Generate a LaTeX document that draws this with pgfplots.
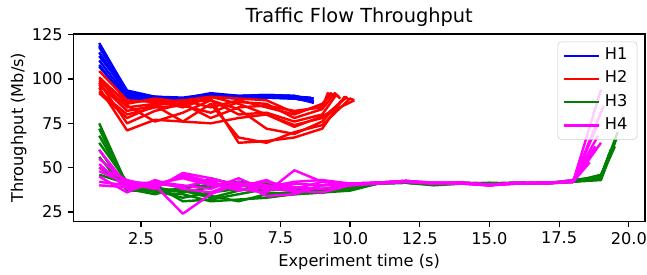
\documentclass[border=0pt]{standalone}
\usepackage{fontspec}
\setmainfont{DejaVu Sans}
\usepackage{pgfplots}
\pgfplotsset{compat=1.18}
\definecolor{cB}{RGB}{0,0,255}
\definecolor{cR}{RGB}{255,0,0}
\definecolor{cG}{RGB}{0,128,0}
\definecolor{cM}{RGB}{255,0,255}
\begin{document}
\begin{tikzpicture}
\begin{axis}[
  name=ax,
  scale only axis,
  width=5.717in, height=1.875in,
  xmin=0.07, xmax=20.58, ymin=19.6, ymax=125.4,
  axis line style={line width=0.94pt},
  tick align=outside,
  xtick pos=left, ytick pos=left,
  major tick length=4.1pt,
  every tick/.style={black, line width=0.94pt},
  xtick={2.5,5,7.5,10,12.5,15,17.5,20},
  ytick={25,50,75,100,125},
  xticklabel style={/pgf/number format/.cd, fixed, fixed zerofill, precision=1},
  /pgf/number format/assume math mode=true,
  ticklabel style={font=\fontsize{11.7}{14}\selectfont},
  title={Traffic Flow Throughput},
  title style={font=\fontsize{14}{16}\selectfont, at={(0.5,1)}, anchor=base, yshift=2.5pt},
  xlabel={Experiment time (s)},
  ylabel={Throughput (Mb/s)},
  label style={font=\fontsize{11.7}{14}\selectfont},
  ylabel style={yshift=-3pt},
  legend style={at={(1,1)}, anchor=north east, xshift=-5.5pt, yshift=-5.5pt,
    draw=black!20, rounded corners=2.5pt, fill=white, fill opacity=0.8, text opacity=1,
    font=\fontsize{11.7}{14}\selectfont, inner xsep=3.5pt, inner ysep=3.8pt, row sep=4.3pt,
    nodes={text height=0.75em, text depth=0.2em, inner ysep=1.5pt, inner xsep=3.5pt}},
  legend cell align=left,
  legend image code/.code={\draw[#1, line width=1.75pt] (0in,0in) -- (0.35in,0in);},
  every axis plot/.append style={line width=1.75pt, line join=round},
]
% H1
\addplot[cB] coordinates {(1,120.3)(2,93)(3,89.5)(4,89)(5,91)(6,90)(7,90.5)(8,90)(8.7,89)};
\addlegendentry{H1}
\addplot[cB, forget plot] coordinates {(1,118)(2,92)(3,90)(4,89.5)(5,91.5)(6,90.5)(7,91)(8,90.5)(8.65,88)};
\addplot[cB, forget plot] coordinates {(1,115)(2,91)(3,88.5)(4,88.5)(5,90.5)(6,89.5)(7,90)(8,89.5)(8.7,86.5)};
\addplot[cB, forget plot] coordinates {(1,110.5)(2,90)(3,89)(4,88.5)(5,91)(6,90)(7,90)(8,90)(8.6,89.5)};
\addplot[cB, forget plot] coordinates {(1,108)(2,88)(3,90)(4,89)(5,90)(6,89)(7,89.5)(8,89)(8.7,87)};
\addplot[cB, forget plot] coordinates {(1,113)(2,92.5)(3,89.5)(4,89)(5,92)(6,90.5)(7,91)(8,90.5)(8.65,88.5)};
\addplot[cB, forget plot] coordinates {(1,119)(2,93.5)(3,90)(4,88)(5,91)(6,89.5)(7,90)(8,89)(8.7,87.5)};
\addplot[cB, forget plot] coordinates {(1,107)(2,89)(3,87.5)(4,88)(5,90)(6,89)(7,89.5)(8,89)(8.6,88)};
% H2
\addplot[cR] coordinates {(1,104.5)(2,88)(3,87)(4,88)(5,90)(6,89)(7,88)(8,81)(9,85)(9.3,92)(9.45,90)};
\addlegendentry{H2}
\addplot[cR, forget plot] coordinates {(1,101)(2,86)(3,89)(4,87)(5,88)(6,80)(7,81)(8,76)(9,80)(9.5,91)(9.65,89)};
\addplot[cR, forget plot] coordinates {(1,99)(2,84)(3,86)(4,86)(5,89)(6,64)(7,65)(8,67)(9,72)(9.8,90)(9.95,88.5)};
\addplot[cR, forget plot] coordinates {(1,97)(2,82)(3,85)(4,76)(5,86)(6,67)(7,64)(8,70)(9,74)(10,89)(10.15,88)};
\addplot[cR, forget plot] coordinates {(1,95)(2,71)(3,77)(4,76)(5,75)(6,78)(7,80)(8,74)(9,78)(9.9,90)};
\addplot[cR, forget plot] coordinates {(1,93)(2,80)(3,84)(4,85)(5,81)(6,87)(7,86)(8,78)(9,83)(9.45,92)(9.6,90)};
\addplot[cR, forget plot] coordinates {(1,96)(2,85)(3,76)(4,81)(5,88)(6,83)(7,72)(8,69)(9,76)(9.7,88)};
\addplot[cR, forget plot] coordinates {(1,92)(2,78)(3,85)(4,88)(5,84)(6,88)(7,84)(8,80)(9,86)(9.3,91)};
\addplot[cR, forget plot] coordinates {(1,100)(2,87)(3,88)(4,84)(5,90)(6,86)(7,80)(8,73)(9,79)(10.15,88)};
\addplot[cR, forget plot] coordinates {(1,98)(2,75)(3,82)(4,86)(5,78)(6,84)(7,85)(8,82)(9,84)(9.2,92)(9.35,90)};
% H3
\addplot[cG] coordinates {(1,75)(2,40)(3,38)(4,37)(5,44)(6,40)(7,38)(8,37)(9,38)(10,40)(11,41.5)(12,41.5)(13,40.5)(14,41)(15,41)(16,41)(17,41.5)(18,42)(19,44)(19.5,64)};
\addlegendentry{H3}
\addplot[cG, forget plot] coordinates {(1,72)(2,39)(3,37)(4,33)(5,36)(6,38)(7,36)(8,35)(9,36)(10,38)(11,41)(12,41.5)(13,41)(14,41.5)(15,41)(16,41.5)(17,41)(18,43)(19,45)(19.6,70)};
\addplot[cG, forget plot] coordinates {(1,68)(2,41)(3,40)(4,31)(5,32)(6,35)(7,38)(8,37)(9,37)(10,39)(11,41.5)(12,42)(13,41)(14,41)(15,41.5)(16,41)(17,41.5)(18,42.5)(19,44)(19.3,58)};
\addplot[cG, forget plot] coordinates {(1,64)(2,42)(3,36)(4,35)(5,31)(6,32)(7,33)(8,35)(9,36)(10,37)(11,41)(12,41.5)(13,40)(14,41)(15,41)(16,41)(17,41.5)(18,42)(19,43)(19.4,60)};
\addplot[cG, forget plot] coordinates {(1,60)(2,38)(3,35)(4,39)(5,40)(6,42)(7,39)(8,38)(9,37)(10,38)(11,41)(12,41.5)(13,40.5)(14,41.5)(15,41)(16,41.5)(17,41)(18,42)(19,46)(19.55,66)};
\addplot[cG, forget plot] coordinates {(1,56)(2,37)(3,37)(4,38)(5,34)(6,31)(7,35)(8,36)(9,37.5)(10,39)(11,41.5)(12,41.5)(13,41)(14,41)(15,41)(16,41.5)(17,41)(18,42)(19,45)(19.25,55)};
\addplot[cG, forget plot] coordinates {(1,50)(2,40)(3,39)(4,36)(5,39)(6,42)(7,40)(8,39)(9,38)(10,40)(11,41)(12,42)(13,40.5)(14,41)(15,41)(16,41)(17,41)(18,42.5)(19,44.5)(19.5,62)};
\addplot[cG, forget plot] coordinates {(1,46)(2,41)(3,37)(4,37)(5,33)(6,37)(7,41)(8,37)(9,36)(10,38)(11,41.5)(12,41.5)(13,41)(14,41)(15,41)(16,41)(17,41.5)(18,42)(19,45)(19.35,60)};
% H4
\addplot[cM] coordinates {(1,60)(2,40)(3,42)(4,40)(5,38)(6,44)(7,37)(8,41)(9,40)(10,41)(11,41.5)(12,42.5)(13,41.5)(14,41.5)(15,40)(16,41.5)(17,41.5)(18,42)(19,94)};
\addlegendentry{H4}
\addplot[cM, forget plot] coordinates {(1,55)(2,42)(3,41)(4,44)(5,40)(6,39)(7,43)(8,36)(9,40)(10,41)(11,41.5)(12,42.5)(13,41)(14,41.5)(15,40.5)(16,41)(17,41.5)(18,42)(18.9,75)};
\addplot[cM, forget plot] coordinates {(1,52)(2,38)(3,40)(4,24)(5,35)(6,41)(7,40)(8,38)(9,42)(10,40)(11,41)(12,42)(13,41.5)(14,41)(15,40)(16,41.5)(17,41)(18,42.5)(18.8,62)};
\addplot[cM, forget plot] coordinates {(1,50)(2,43)(3,39)(4,46)(5,42)(6,38)(7,36)(8,48.5)(9,42)(10,41)(11,41.5)(12,42.5)(13,41)(14,41)(15,40)(16,41)(17,41.5)(18,42)(19.1,85)};
\addplot[cM, forget plot] coordinates {(1,48)(2,41)(3,38)(4,47)(5,44)(6,40)(7,42)(8,39)(9,38)(10,40)(11,41.5)(12,42.5)(13,41)(14,41.5)(15,40.5)(16,41.5)(17,41)(18,42)(18.7,58)};
\addplot[cM, forget plot] coordinates {(1,45)(2,36)(3,43)(4,38)(5,36)(6,42)(7,34)(8,35)(9,40)(10,41)(11,41)(12,42)(13,41)(14,41)(15,40)(16,41)(17,41.5)(18,42)(18.6,53)};
\addplot[cM, forget plot] coordinates {(1,42)(2,40)(3,40)(4,45)(5,41)(6,37)(7,39)(8,42)(9,43)(10,41)(11,41.5)(12,42.5)(13,41.5)(14,41.5)(15,40)(16,41.5)(17,41)(18,43)(18.9,68)};
\addplot[cM, forget plot] coordinates {(1,40)(2,39)(3,41)(4,39)(5,43)(6,41)(7,38)(8,37)(9,36)(10,40)(11,41.5)(12,42)(13,41)(14,41.5)(15,40.5)(16,41)(17,41.5)(18,42)(19,64)};
\end{axis}
\pgfresetboundingbox
\path ([shift={(-0.733in,-0.535in)}]ax.south west) rectangle ([shift={(0.02in,0.34in)}]ax.north east);
\end{tikzpicture}
\end{document}
